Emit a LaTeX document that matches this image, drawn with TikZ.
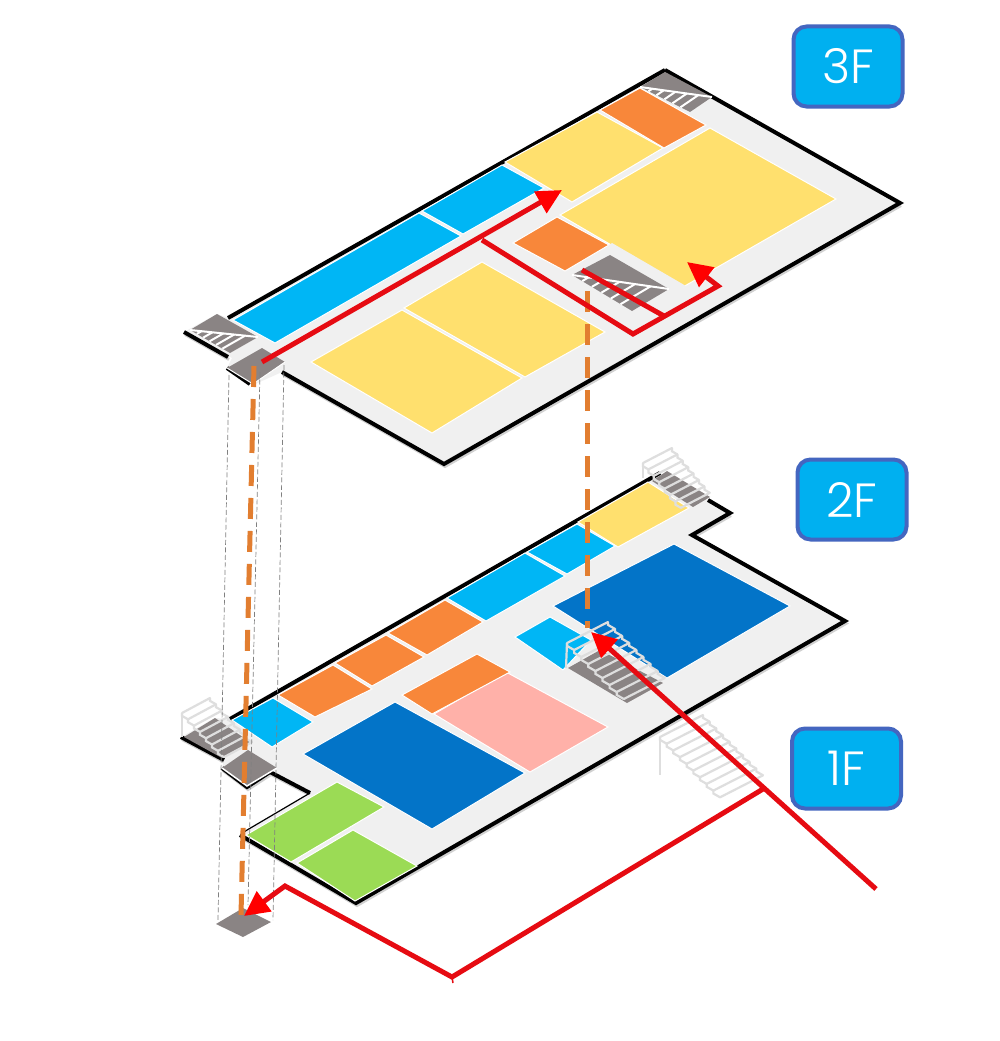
\documentclass[tikz,border=0pt]{standalone}
\usepackage{fontspec}
\setmainfont{Open Sans}
\newfontfamily\lblfont{Poppins Light}
\usetikzlibrary{arrows.meta,calc}
\definecolor{slab}{HTML}{F0F0F0}
\definecolor{ylw}{HTML}{FFE06E}
\definecolor{org}{HTML}{F8873A}
\definecolor{sky}{HTML}{00B6F5}
\definecolor{navy}{HTML}{0374C8}
\definecolor{pnk}{HTML}{FFB1A9}
\definecolor{grn}{HTML}{9BDB55}
\definecolor{stone}{HTML}{8A8484}
\definecolor{rail}{HTML}{DEDEDE}
\definecolor{rt}{HTML}{E60B12}
\definecolor{dsh}{HTML}{E27E30}
\definecolor{lblb}{HTML}{00B0F0}
\definecolor{lbld}{HTML}{4466C0}
\tikzset{
  room/.style={fill=#1,draw=white,line width=1pt,line join=miter},
  edge3/.style={draw=black,line width=4pt,line join=miter},
  shade3/.style={draw=black,opacity=.18,line width=3pt,line join=miter,shift={(1pt,-2.5pt)}},
  thinedge/.style={draw=black,line width=1.2pt},
  stonef/.style={fill=stone,draw=none},
  tread/.style={draw=white,line width=2pt},
  railing/.style={draw=rail,line width=2.2pt,line join=miter},
  shaft/.style={draw=gray,line width=.7pt,dash pattern=on 5pt off 2.5pt},
  vert/.style={draw=dsh,line width=5pt,dash pattern=on 21pt off 12pt},
  route/.style={draw=rt,line width=5pt,line join=miter},
  routeend/.style={route,-{Triangle[length=25pt,width=24pt,color=red]}},
  floorlabel/.style={draw=lbld,fill=lblb,line width=4pt,rounded corners=13pt,
    minimum width=109pt,minimum height=80pt,text=white,font=\lblfont\fontsize{48}{48}\selectfont,inner sep=0pt}
}
% half stair: L T R B corners
\newcommand\halfstair[8]{%
  \fill[stonef] (#1,#2)--(#3,#4)--(#5,#6)--(#7,#8)--cycle;
  \draw[tread] (#1,#2)--(#5,#6);
  \foreach \t in {.17,.33,.49,.65,.81}{
    \draw[tread] ($(#1,#2)!\t!(#5,#6)$) -- ++({(#7-#5)*\t},{(#8-#6)*\t});
  }
}
% outlined flight: x y, run rx ry, drop, width wx wy, n
\newcommand\flight[8]{%
  \foreach \i in {0,...,#8}{
    \pgfmathsetmacro\px{#1+\i*(#3)}
    \pgfmathsetmacro\py{#2+\i*(#4+#5)}
    \draw[railing,line cap=round] (\px,\py) -- ++(#6,#7);
    \ifnum\i<#8\relax
      \draw[railing] (\px,\py) -- ++(0,#5) -- ++(#3,#4);
      \draw[railing] ({\px+(#6)},{\py+(#7)}) -- ++(0,#5) -- ++(#3,#4);
    \fi
  }
}
\begin{document}
\begin{tikzpicture}[x=1pt,y=-1pt]
\useasboundingbox (0,0) rectangle (1000,1041);
\fill[white] (0,0) rectangle (1000,1041);

% ---------- lower slab (1F/2F) ----------
\draw[shade3] (181,737)--(224,760);
\draw[shade3] (222,768)--(247,787)--(270,772)--(310,793);
\draw[shade3] (730,513)--(692,535)--(845,621)--(356,903)--(240,835);
\fill[slab] (181,737)--(215,718)--(230,719)--(660,473)--(708,500)--(730,513)--(692,535)--(845,621)--(356,903)--(240,835)--(310,793)--(270,772)--(247,787)--(222,768)--(224,760)--cycle;
\draw[edge3] (230,719)--(660,473);
\draw[edge3] (181,737)--(224,760);
\draw[edge3] (222,768)--(247,787)--(270,772)--(310,793);
\draw[thinedge] (310,793)--(242,833);
\draw[edge3] (708,500)--(730,513)--(692,535)--(845,621)--(356,903)--(240,835);

\fill[room=sky] (232,720)--(273,698)--(313,722)--(272,747)--cycle;
\fill[room=org] (278,695)--(333,665)--(372,689)--(315,717)--cycle;
\fill[room=org] (335,663)--(386,635)--(424,657)--(372,686)--cycle;
\fill[room=org] (388,633)--(445,600)--(483,622)--(427,655)--cycle;
\fill[room=sky] (447,598)--(525,553)--(565,576)--(486,621)--cycle;
\fill[room=sky] (527,552)--(577,524)--(615,546)--(567,574)--cycle;
\fill[room=ylw] (578,522)--(648,482)--(689,508)--(618,547)--cycle;
\fill[room=navy] (553,606)--(674,544)--(790,606)--(667,678)--cycle;
\fill[room=sky] (515,637)--(550,617)--(591,640)--(563,670)--cycle;
\fill[room=pnk] (434,714)--(506,672)--(608,727)--(530,772)--cycle;
\fill[room=org] (402,695)--(477,654)--(510,672)--(432,714)--cycle;
\fill[room=navy] (303,754)--(395,702)--(525,773)--(432,829)--cycle;
\fill[room=grn] (246,835)--(337,782)--(384,807)--(291,862)--cycle;
\fill[room=grn] (297,863)--(353,830)--(417,866)--(355,901)--cycle;

% stairs on lower slab
\fill[stonef] (568,668)--(600,650)--(663,683)--(627,703)--cycle;
\flight{608}{622}{7.1}{4.1}{2.9}{-41}{21}{8}
\draw[railing] (567,643)--(566,668);
\fill[stonef] (184,737)--(215,718)--(250,742)--(222,758)--cycle;
\flight{210}{698}{6}{3.4}{2.9}{-28}{15}{7}
\draw[railing] (182,713)--(182,737);
\fill[stonef] (652,481)--(667,471)--(710,497)--(693,507)--cycle;
\flight{672}{448}{5.4}{3.1}{3.3}{-29}{15}{7}
\draw[railing] (643,463)--(643,478);
\fill[stonef] (222,768)--(248,750)--(277,768)--(247,786)--cycle;
\draw[white,line width=1.5pt] (222,768)--(247,786)--(277,768);
% outer stair to 1F
\flight{703}{715}{6.67}{3.8}{2.9}{-43}{22}{9}
\draw[railing] (660,737)--(660,775);

% ---------- 3F slab ----------
\draw[shade3] (184,332)--(228,357);
\draw[shade3] (900,203)--(444,464)--(282,372);
\fill[slab] (184,332)--(217,314)--(228,318)--(665,70)--(900,203)--(444,464)--(282,372)--(253,385)--(227,368)--(232,358)--cycle;
\draw[edge3] (228,318)--(665,70);
\draw[edge3] (665,70)--(900,203)--(444,464)--(282,372);
\draw[edge3] (184,332)--(228,357);
\draw[edge3] (227,368)--(250,384);

\fill[room=sky] (233,320)--(419,213)--(461,236)--(275,343)--cycle;
\fill[room=sky] (422,211)--(502,165)--(544,188)--(463,234)--cycle;
\fill[room=ylw] (505,162)--(597,112)--(663,148)--(572,202)--cycle;
\fill[room=org] (600,110)--(640,88)--(706,125)--(664,148)--cycle;
\fill[room=ylw] (560,215)--(710,128)--(836,199)--(683,287)--cycle;
\fill[room=org] (513,243)--(557,217)--(609,245)--(565,271)--cycle;
\fill[room=ylw] (311,362)--(402,310)--(522,378)--(432,433)--cycle;
\fill[room=ylw] (404,308)--(482,262)--(605,332)--(525,377)--cycle;
\fill[slab] (612,243)--(686,286)--(670,296)--(632,320)--(572,276)--cycle;

\halfstair{572}{275}{610}{255}{669}{289}{632}{311}
\halfstair{190}{330}{217}{314}{258}{337}{230}{353}
\halfstair{640}{87}{665}{72}{712}{97}{690}{112}
\fill[stonef] (227,368)--(262,348)--(285,362)--(253,384)--cycle;
\draw[white,line width=1pt] (227,368)--(253,384)--(285,362);

% shafts
\coordinate (sa) at (229,375); \coordinate (sb) at (218,920);
\coordinate (sc) at (260,372); \coordinate (sd) at (248,905);
\coordinate (se) at (284,365); \coordinate (sf) at (273,920);
\draw[shaft] (sa)--(sb);
\draw[shaft] (sc)--(sd);
\draw[shaft] (se)--(sf);
% ground landing
\fill[stonef] (216,924)--(243,908)--(271,922)--(243,937)--cycle;

% vertical dashed links
\coordinate (va) at (254,366); \coordinate (vb) at (241,915);
\coordinate (vc) at (587,291); \coordinate (vd) at (587,628);
\draw[vert] (va)--(vb);
\draw[vert] (vc)--(vd);

% routes
\coordinate (r1) at (262,362); \coordinate (r2) at (562,190);
\draw[routeend] (r1)--(r2);
\coordinate (r3) at (482,240); \coordinate (r4) at (633,334);
\coordinate (r5) at (718,286); \coordinate (r6) at (687,262);
\draw[routeend] (r3)--(r4)--(r5)--(r6);
\coordinate (r7) at (582,270); \coordinate (r8) at (664,316);
\draw[route] (r7)--(r8);
\coordinate (r9) at (876,889); \coordinate (r10) at (591,632);
\draw[routeend] (r9)--(r10);
\coordinate (r11) at (763,789); \coordinate (r12) at (452,977);
\coordinate (r13) at (285,886); \coordinate (r14) at (244,916);
\draw[routeend] (r11)--(r12)--(r13)--(r14);
\coordinate (r15) at (453,983);
\draw[draw=rt,line width=1.5pt] (r12)--(r15);

% labels
\node[floorlabel] (f3) at (848,66.5) {3F};
\node[floorlabel] (f2) at (852,499.5) {2F};
\node[floorlabel] (f1) at (846.5,768.5) {1F};
\end{tikzpicture}
\end{document}
